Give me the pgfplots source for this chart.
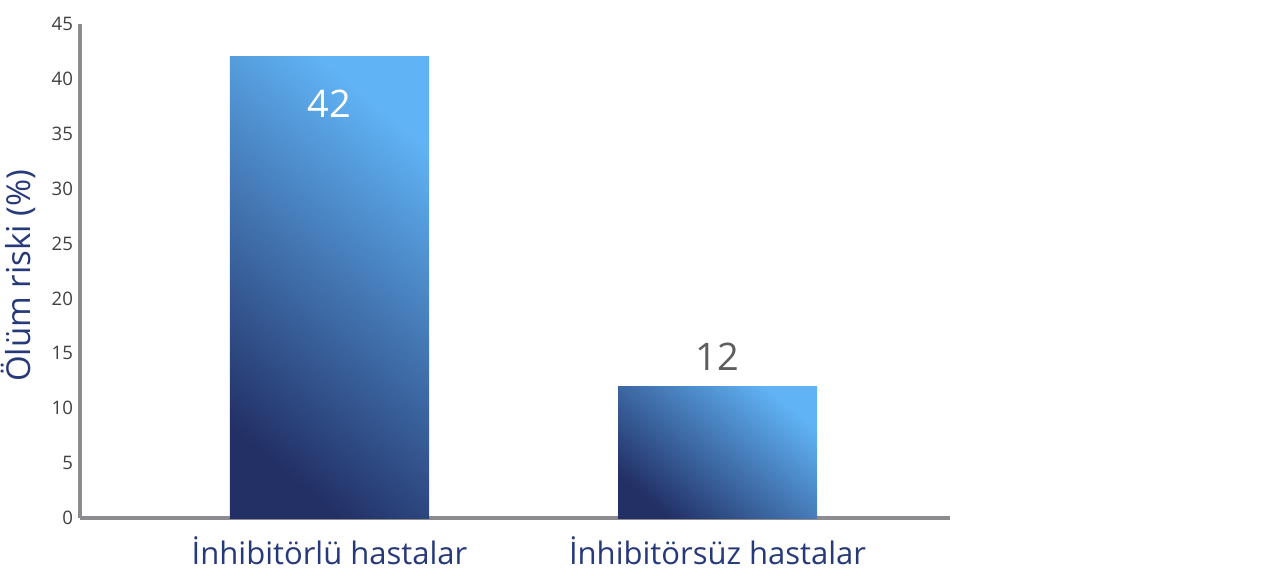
\documentclass[border=0pt]{standalone}
\usepackage{pgfplots}
\pgfplotsset{compat=1.18}
\usepackage{fontspec}
\setmainfont{Open Sans}
\definecolor{navy}{HTML}{26397A}
\definecolor{axisgrey}{HTML}{8C8C90}
\definecolor{tickgrey}{HTML}{404040}
\definecolor{numgrey}{HTML}{5E5E5E}
\definecolor{bardark}{HTML}{223066}
\definecolor{barmid}{HTML}{3C6BAE}
\definecolor{barlight}{HTML}{60B3F5}
\begin{document}
\begin{tikzpicture}
\useasboundingbox (-40pt,-28.5pt) rectangle (600pt,259pt);
\begin{axis}[
  at={(0pt,0pt)}, anchor=south west,
  scale only axis, width=435pt, height=247pt,
  xmin=0.357, xmax=2.599, ymin=0, ymax=45,
  axis lines=left,
  axis line style={-, line width=2pt, color=axisgrey},
  ytick={0,5,...,45},
  xtick={1,2},
  xticklabels={İnhibitörlü hastalar, İnhibitörsüz hastalar},
  major tick length=0pt,
  /pgf/number format/assume math mode=true,
  yticklabel style={font=\fontsize{9.3}{10}\selectfont, text=tickgrey, xshift=0pt},
  xticklabel style={font=\fontsize{15.5}{18}\selectfont, text=navy, anchor=base, yshift=-23pt},
  ylabel={Ölüm riski (\%)},
  ylabel style={at={(axis description cs:-0.071,0.49)}, anchor=center, font=\fontsize{16.5}{18}\selectfont, text=navy},
  ybar, bar width=0.513,
  clip=false,
]
\addplot[draw=none, bar shift=0pt, shading=axis, bottom color=bardark, middle color=barmid, top color=barlight, shading angle=-40,
  nodes near coords, every node near coord/.append style={anchor=center, yshift=-23.5pt, text=white, font=\fontsize{19}{22}\selectfont}]
  coordinates {(1,42)};
\addplot[draw=none, bar shift=0pt, shading=axis, bottom color=bardark, middle color=barmid, top color=barlight, shading angle=-40,
  nodes near coords, every node near coord/.append style={anchor=center, yshift=15pt, text=numgrey, font=\fontsize{19}{22}\selectfont}]
  coordinates {(2,12)};
\end{axis}
\end{tikzpicture}
\end{document}
